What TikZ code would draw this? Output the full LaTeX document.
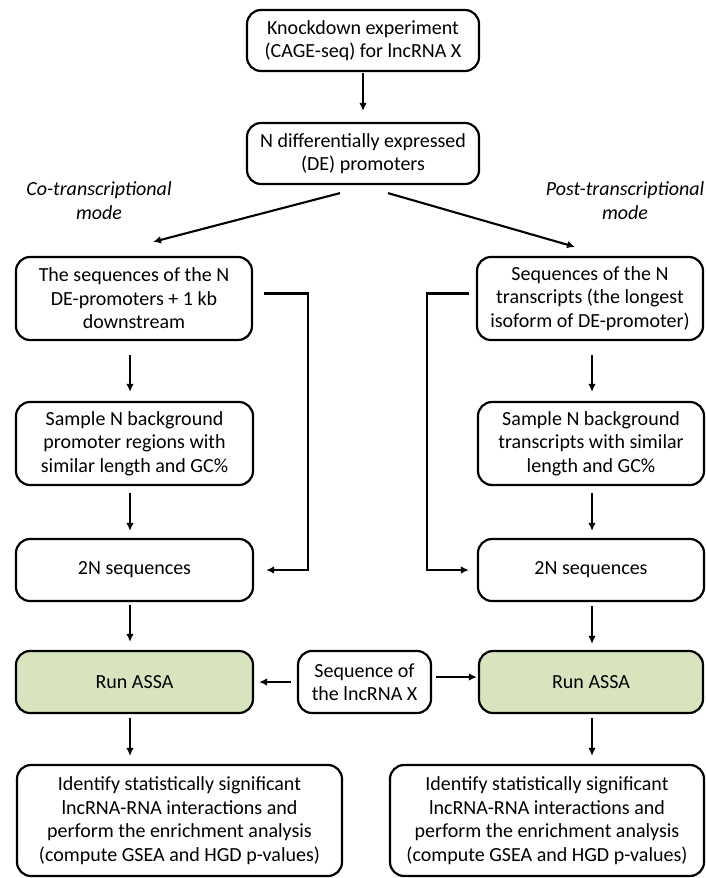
\documentclass[tikz,border=0pt]{standalone}
\usepackage{fontspec}
\setmainfont{Carlito}
\usepackage{tikz}
\usetikzlibrary{arrows.meta,shapes}
\usetikzlibrary{calc}
\definecolor{assagreen}{RGB}{215,228,189}
\tikzstyle{box}=[rectangle,rounded corners=14pt,draw,line width=2.2pt,fill=white,align=center,inner sep=0pt,font=\fontsize{20}{23.5}\selectfont]
\tikzstyle{runbox}=[box,fill=assagreen]
\tikzstyle{edge} = [draw,line width=2.1pt,-{Latex[length=8pt,width=7.5pt]}]
\tikzstyle{modelabel} = [align=center,font=\fontsize{20}{23.5}\selectfont\itshape]

\begin{document}
\begin{tikzpicture}[x=1pt,y=-1pt]

\useasboundingbox (0,0) rectangle (705,878);

% columns of the arrows
\coordinate (colL) at (130,0);
\coordinate (colR) at (592,0);

% top
\node[box,minimum width=232pt,minimum height=61pt] (knock) at (363,40.5) {Knockdown experiment\\(CAGE-seq) for lncRNA X};
\node[box,minimum width=232pt,minimum height=61pt] (de) at (363,153.5) {N differentially expressed\\(DE) promoters};

% modes
\node[modelabel] (modeL) at (99,200.5) {Co-transcriptional\\mode};
\node[modelabel] (modeR) at (625,200.5) {Post-transcriptional\\mode};

% left column
\node[box,minimum width=236pt,minimum height=83pt] (seqL) at (134,298.5) {The sequences of the N\\DE-promoters + 1 kb\\downstream};
\node[box,minimum width=237pt,minimum height=83pt] (sampL) at (134.5,443.5) {Sample N background\\promoter regions with\\similar length and GC\%};
\node[box,minimum width=237pt,minimum height=62pt] (twoL) at (134.5,570) {2N sequences};
\node[runbox,minimum width=237pt,minimum height=62pt] (assaL) at (134.5,682) {Run ASSA};
\node[box,minimum width=325pt,minimum height=111pt] (resL) at (179.5,820.5) {Identify statistically significant\\lncRNA-RNA interactions and\\perform the enrichment analysis\\(compute GSEA and HGD p-values)};

% right column
\node[box,minimum width=226pt,minimum height=83pt] (seqR) at (590,298.5) {Sequences of the N\\transcripts (the longest\\isoform of DE-promoter)};
\node[box,minimum width=226pt,minimum height=83pt] (sampR) at (591,443.5) {Sample N background\\transcripts with similar\\length and GC\%};
\node[box,minimum width=226pt,minimum height=62pt] (twoR) at (591,570) {2N sequences};
\node[runbox,minimum width=224pt,minimum height=62pt] (assaR) at (591,682) {Run ASSA};
\node[box,minimum width=314pt,minimum height=111pt] (resR) at (547,820.5) {Identify statistically significant\\lncRNA-RNA interactions and\\perform the enrichment analysis\\(compute GSEA and HGD p-values)};

% middle
\node[box,minimum width=133pt,minimum height=62pt] (lnc) at (364.5,682) {Sequence of\\the lncRNA X};

% arrows
\path[edge,shorten <=1pt,shorten >=11pt] (knock.south) -- (de.north);
\path[edge] ($(de.south)+(-23,8)$) -- ($(seqL.north)+(19,-14)$);
\path[edge] ($(de.south)+(25,8)$) -- ($(seqR.north)+(-15,-9)$);

\foreach \source/ \dest/\a/\b in {seqL/sampL/14/9, sampL/twoL/7/7, twoL/assaL/3/8, assaL/resL/4/8}
    \path[edge,shorten <=\a pt,shorten >=\b pt] (\source.south -| colL) -- (\dest.north -| colL);
\foreach \source/ \dest/\a/\b in {seqR/sampR/14/9, sampR/twoR/7/7, twoR/assaR/4/6, assaR/resR/4/8}
    \path[edge,shorten <=\a pt,shorten >=\b pt] (\source.south -| colR) -- (\dest.north -| colR);

% side connectors
\path[edge] ([xshift=11pt,yshift=5pt]seqL.east) -- ++(44,0) |- ([xshift=12pt]twoL.east);
\path[edge] ([xshift=-7pt,yshift=5pt]seqR.west) -- ++(-42,0) |- ([xshift=-8pt]twoR.west);

\path[edge,shorten <=6pt,shorten >=5pt] (lnc.west) -- (assaL.east);
\path[edge,shorten <=4pt,shorten >=1pt] ([yshift=5pt]lnc.east) -- ([yshift=5pt]lnc.east -| assaR.west);

\end{tikzpicture}
\end{document}
